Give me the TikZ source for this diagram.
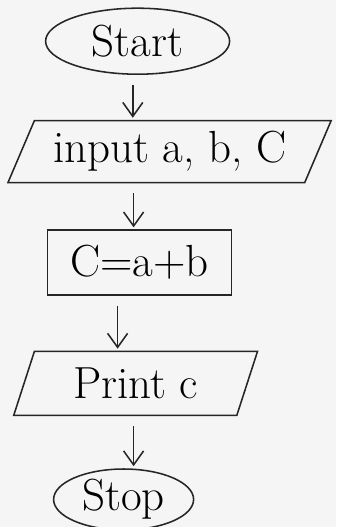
\documentclass[tikz,border=0pt]{standalone}
\usepackage{tikz}
\usetikzlibrary{positioning, arrows.meta, shapes.geometric}

\begin{document}
\begin{tikzpicture}[
  big/.style={font=\fontsize{32}{36}\selectfont},
  term/.style={draw=black!85, ellipse, line width=1.1pt, big, inner sep=1pt},
  io/.style={draw=black!85, trapezium, trapezium stretches=true, line width=1.1pt, big, inner sep=2pt},
  proc/.style={draw=black!85, rectangle, line width=1.1pt, big},
  arr/.style={-{Straight Barb[length=3.5mm, width=5mm]}, line width=1.1pt, black!85, shorten <=2.5mm, shorten >=0.5mm}
]
  % page and paper
  \useasboundingbox[fill=black!4] (0,0) rectangle (8.4,-13.175);

  \node[term, minimum width=4.6cm, minimum height=1.65cm] (start) at (3.44,-1.03) {Start};
  \node[io, minimum width=8.1cm, minimum height=1.55cm, trapezium left angle=63, trapezium right angle=117,
        below=1.12cm of start, xshift=0.8cm] (input) {input a, b, C};
  \node[proc, minimum width=4.6cm, minimum height=1.62cm, below=1.15cm of input, xshift=-0.75cm] (sum) {C=a+b};
  \node[io, minimum width=6.1cm, minimum height=1.6cm, trapezium left angle=70, trapezium right angle=110,
        below=1.375cm of sum, xshift=-0.1cm] (print) {Print c};
  \node[term, minimum width=3.5cm, minimum height=1.5cm, below=1.3cm of print, xshift=-0.3cm] (stop) {Stop};

  \draw[arr] ([xshift=-0.12cm]start.south) -- ([xshift=-0.12cm]start.south |- input.north);
  \draw[arr] ([xshift=-0.9cm]input.south) -- ([xshift=-0.9cm]input.south |- sum.north);
  \draw[arr] ([xshift=-0.55cm]sum.south) -- ([xshift=-0.55cm]sum.south |- print.north);
  \draw[arr] ([xshift=-0.05cm]print.south) -- ([xshift=-0.05cm]print.south |- stop.north);
\end{tikzpicture}
\end{document}
